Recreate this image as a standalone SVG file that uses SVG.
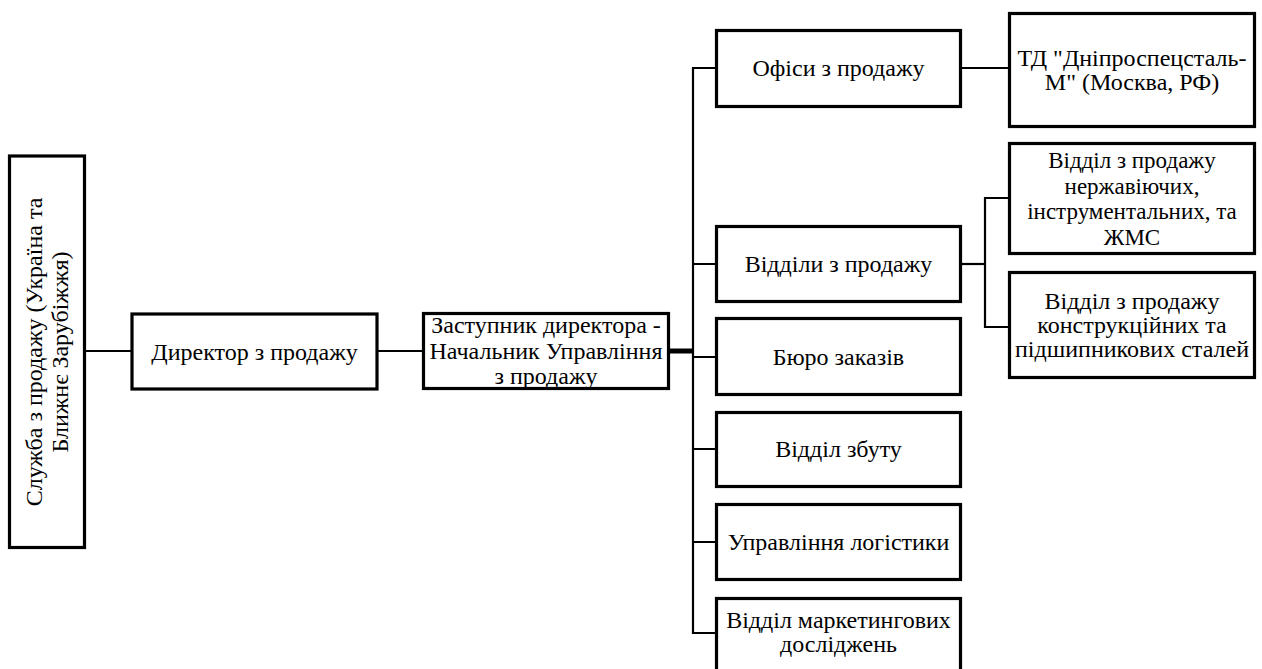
<svg xmlns="http://www.w3.org/2000/svg" width="1262" height="669" viewBox="0 0 1262 669">
<style>
.box{fill:#fff;stroke:#000;stroke-width:3.2}
.ln{fill:none;stroke:#000;stroke-width:2.2}
.thick{fill:none;stroke:#000;stroke-width:5}
text{font-family:"Liberation Serif","Times New Roman",serif;font-size:24px;fill:#000;text-anchor:middle}
.sm{font-size:23px}
</style>
<rect width="1262" height="669" fill="#fff"/>
<g id="connectors">
<path class="ln" d="M85 351 H132"/>
<path class="ln" d="M377 351 H423"/>
<path class="thick" d="M668 351 H693"/>
<path class="ln" d="M716 68 H693 V633 H716"/>
<path class="ln" d="M693 264 H716 M693 357 H716 M693 449 H716 M693 542 H716"/>
<path class="ln" d="M961 68 H1009"/>
<path class="ln" d="M961 264 H985"/>
<path class="ln" d="M1009 198 H985 V327 H1009"/>
</g>
<g id="n-sluzhba">
<rect class="box" x="9.5" y="156" width="75" height="391.5"/>
<text transform="translate(0,352) rotate(-90)"><tspan x="0" y="42">Служба з продажу (Україна та</tspan><tspan x="0" y="68">Ближнє Зарубіжжя)</tspan></text>
</g>
<g id="n-director">
<rect class="box" x="132" y="314" width="245" height="75"/>
<text x="254.5" y="360">Директор з продажу</text>
</g>
<g id="n-zastupnyk">
<rect class="box" x="423.5" y="313.5" width="245" height="75"/>
<text><tspan x="546" y="333">Заступник директора -</tspan><tspan x="546" y="359">Начальник Управління</tspan><tspan x="546" y="384">з продажу</tspan></text>
</g>
<g id="n-ofisy">
<rect class="box" x="716.5" y="30.5" width="244" height="76"/>
<text x="838.5" y="76">Офіси з продажу</text>
</g>
<g id="n-viddily">
<rect class="box" x="716.5" y="226.5" width="244" height="75"/>
<text x="838.5" y="272">Відділи з продажу</text>
</g>
<g id="n-buro">
<rect class="box" x="716.5" y="318.5" width="244" height="76"/>
<text x="838.5" y="365">Бюро заказів</text>
</g>
<g id="n-zbut">
<rect class="box" x="716.5" y="412.5" width="244" height="74"/>
<text x="838.5" y="457">Відділ збуту</text>
</g>
<g id="n-logistyka">
<rect class="box" x="716.5" y="504.5" width="244" height="75"/>
<text x="838.5" y="550">Управління логістики</text>
</g>
<g id="n-marketing">
<rect class="box" x="716.5" y="598.5" width="244" height="90"/>
<text><tspan x="838.5" y="628">Відділ маркетингових</tspan><tspan x="838.5" y="652">досліджень</tspan></text>
</g>
<g id="n-td">
<rect class="box" x="1009.5" y="13.5" width="245" height="113"/>
<text><tspan x="1132" y="66">ТД "Дніпроспецсталь-</tspan><tspan x="1132" y="90">М" (Москва, РФ)</tspan></text>
</g>
<g id="n-nerzh">
<rect class="box" x="1009.5" y="143.5" width="245" height="110"/>
<text class="sm"><tspan x="1132" y="168">Відділ з продажу</tspan><tspan x="1132" y="193.6">нержавіючих,</tspan><tspan x="1132" y="219.2">інструментальних, та</tspan><tspan x="1132" y="244.8">ЖМС</tspan></text>
</g>
<g id="n-konstr">
<rect class="box" x="1009.5" y="272.5" width="245" height="105"/>
<text><tspan x="1132" y="309">Відділ з продажу</tspan><tspan x="1132" y="333">конструкційних та</tspan><tspan x="1132" y="357">підшипникових сталей</tspan></text>
</g>
</svg>
